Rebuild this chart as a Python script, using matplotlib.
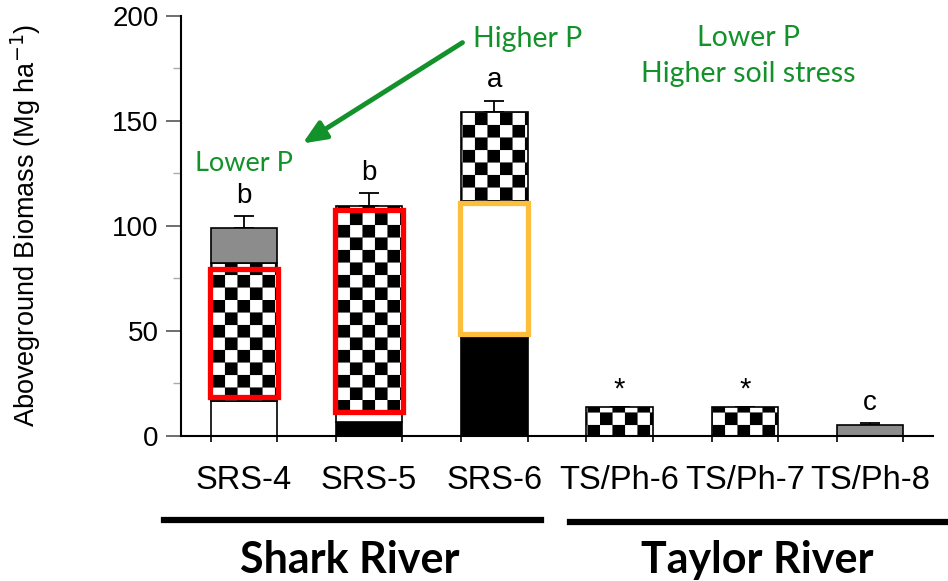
import numpy as np
import matplotlib
matplotlib.use("Agg")
import matplotlib.pyplot as plt
import matplotlib.hatch as mhatch
from matplotlib.path import Path
from matplotlib.patches import Rectangle

# ---------------- data ----------------
sites = ["SRS-4", "SRS-5", "SRS-6", "TS/Ph-6", "TS/Ph-7", "TS/Ph-8"]
seg_black = [0.0, 6.5, 47.0, 0.0, 0.0, 0.0]
seg_white = [16.6, 5.0, 65.0, 0.0, 0.0, 0.0]
seg_checker = [65.6, 98.0, 42.0, 13.9, 13.9, 0.0]
seg_gray = [16.8, 0.0, 0.0, 0.0, 0.0, 5.2]
err_up = [5.5, 6.0, 5.5, 0.0, 0.0, 1.0]
sig_labels = ["b", "b", "a", "*", "*", "c"]
groups = ["Shark River", "Taylor River"]
# highlight boxes: (site index, low, high, colour)
hl_site = [0, 1, 2]
hl_low = [18.5, 11.4, 48.5]
hl_high = [79.5, 107.5, 110.7]
hl_color = ["#ff0000", "#ff0000", "#fdbe3c"]

# ---------------- checkerboard hatch ----------------
class CheckerHatch(mhatch.HatchPatternBase):
    filled = True

    def __init__(self, hatch, density):
        self.n = 8 if hatch.count('o') else 0
        self.num_vertices = (self.n * self.n // 2) * 5

    def set_vertices_and_codes(self, vertices, codes):
        n = self.n
        s = 1.0 / n
        k = 0
        for i in range(n):
            for j in range(n):
                if (i + j) % 2 == 0:
                    x0, y0 = i * s, j * s
                    vertices[k:k + 5] = [(x0, y0), (x0 + s, y0), (x0 + s, y0 + s),
                                         (x0, y0 + s), (x0, y0)]
                    codes[k:k + 5] = [Path.MOVETO, Path.LINETO, Path.LINETO,
                                      Path.LINETO, Path.CLOSEPOLY]
                    k += 5

mhatch._hatch_types = [CheckerHatch if t is mhatch.SmallCircles else t
                       for t in mhatch._hatch_types]
plt.rcParams['hatch.linewidth'] = 0.1

green = "#13912a"
arial = ["Liberation Sans", "DejaVu Sans"]
calibri = ["Lato", "DejaVu Sans"]

fig = plt.figure(figsize=(9.48, 5.81), dpi=100)
ax = fig.add_axes([0.191, 0.2496, 0.793, 0.7234])

x = np.arange(len(sites))
w = 0.53
bottom = np.zeros(len(sites))
layers = [(seg_black, "black", None), (seg_white, "white", None),
          (seg_checker, "white", "o"), (seg_gray, "#8c8c8c", None)]
for vals, fc, hatch in layers:
    vals = np.array(vals)
    m = vals > 0
    ax.bar(x[m], vals[m], w, bottom=bottom[m], color=fc, edgecolor="black",
           linewidth=1.2, hatch=hatch, zorder=2)
    bottom += vals

tops = bottom.copy()
ax.errorbar(x, tops, yerr=[np.zeros(len(sites)), err_up], fmt="none",
            ecolor="black", elinewidth=1.3, capsize=7, capthick=1.3, zorder=1)

for i, lo, hi, c in zip(hl_site, hl_low, hl_high, hl_color):
    ax.add_patch(Rectangle((x[i] - w / 2 - 0.005, lo), w + 0.01, hi - lo,
                           facecolor="none", edgecolor=c, linewidth=3.8, zorder=3))

for i, lab in enumerate(sig_labels):
    yy = tops[i] + err_up[i]
    if lab == "*":
        ax.text(x[i], tops[i] + 8, lab, ha="center", va="center",
                fontsize=21, family=arial)
    else:
        ax.text(x[i], yy + 3.5, lab, ha="center", va="bottom",
                fontsize=20, family=arial)

ax.set_xlim(-0.5, 5.5)
ax.set_ylim(0, 200)
ax.set_yticks([0, 50, 100, 150, 200])
ax.set_yticks([25, 75, 125, 175], minor=True)
ax.set_xticks(x)
ax.set_xticklabels(sites, family=arial, fontsize=23.5)
ax.set_xticks(np.concatenate([x - w / 2, x + w / 2]), minor=True)
ax.tick_params(axis="x", which="major", length=0, pad=21)
ax.tick_params(axis="x", which="minor", length=4, width=1.2, direction="out")
ax.tick_params(axis="y", which="major", length=11, width=1.2, color="#555555",
               labelsize=20, pad=5)
ax.tick_params(axis="y", which="minor", length=6, width=1.0, color="#aaaaaa")
for lab in ax.get_yticklabels():
    lab.set_family(arial)
for s in ["top", "right"]:
    ax.spines[s].set_visible(False)
ax.spines["left"].set_linewidth(1.5)
ax.spines["bottom"].set_linewidth(1.5)
ax.set_ylabel("Aboveground Biomass (Mg ha$^{-1}$)", family=arial, fontsize=19.5)
ax.yaxis.set_label_coords(-0.184, 0.5)

# green annotations
ax.text(0.0, 129.7, "Lower P", color=green, family=calibri, fontsize=19.5,
        ha="center", va="center")
ax.text(2.265, 189, "Higher P", color=green, family=calibri, fontsize=20.5,
        ha="center", va="center")
ax.text(4.03, 189.5, "Lower P", color=green, family=calibri, fontsize=20.5,
        ha="center", va="center")
ax.text(4.03, 172.4, "Higher soil stress", color=green, family=calibri,
        fontsize=20.5, ha="center", va="center")
ax.annotate("", xy=(0.47, 139.2), xytext=(1.746, 187.2),
            arrowprops=dict(arrowstyle="-|>,head_length=1.4,head_width=0.6",
                            color=green, lw=3.5, shrinkA=0, shrinkB=0))

# group bars and labels
fig.add_artist(plt.Line2D([164 / 948, 541 / 948], [1 - 520 / 581, 1 - 520 / 581],
                          color="black", lw=4.5))
fig.add_artist(plt.Line2D([570 / 948, 947 / 948], [1 - 522 / 581, 1 - 522 / 581],
                          color="black", lw=4.5))
fig.text(350 / 948, 1 - 560 / 581, groups[0], ha="center", va="center",
         fontsize=31, fontweight="bold", family=calibri)
fig.text(757 / 948, 1 - 560 / 581, groups[1], ha="center", va="center",
         fontsize=31, fontweight="bold", family=calibri)

fig.savefig("out.png", dpi=100)
